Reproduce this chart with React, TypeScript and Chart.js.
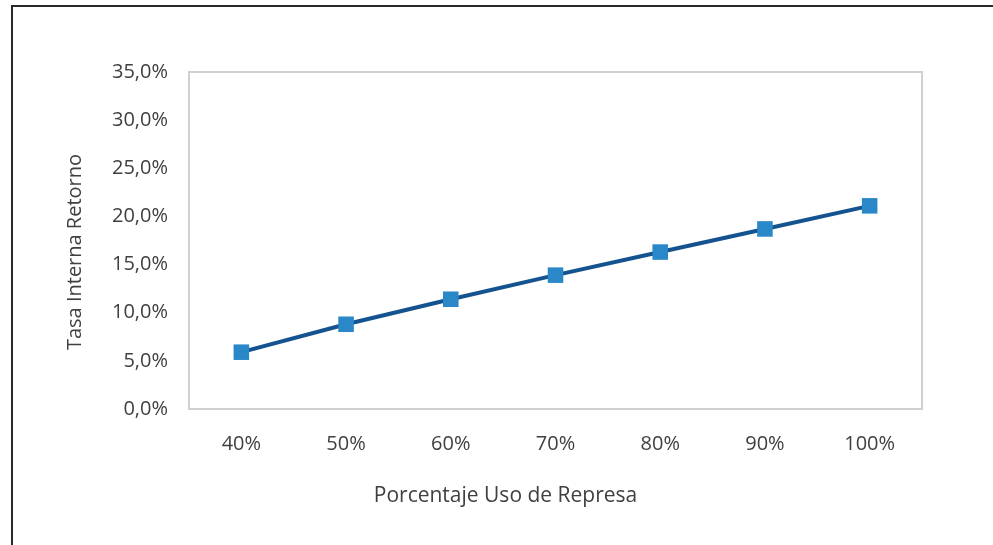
import React, { useEffect, useRef } from 'react';
import { Chart, registerables } from 'chart.js';

Chart.register(...registerables);

const categories: string[] = ['40%', '50%', '60%', '70%', '80%', '90%', '100%'];
const tirValues: number[] = [5.9, 8.8, 11.4, 13.9, 16.3, 18.7, 21.1];
const yMin = 0;
const yMax = 35;
const yStep = 5;
const xTitle = 'Porcentaje Uso de Represa';
const yTitle = 'Tasa Interna Retorno';

const FONT = '"Open Sans", "DejaVu Sans", sans-serif';
const TEXT = '#404040';

const plotFramePlugin = {
  id: 'plotFrame',
  beforeDatasetsDraw(chart: any) {
    const { ctx, chartArea } = chart;
    ctx.save();
    ctx.strokeStyle = '#d0d0d0';
    ctx.lineWidth = 2;
    ctx.strokeRect(chartArea.left, chartArea.top, chartArea.right - chartArea.left, chartArea.bottom - chartArea.top);
    ctx.restore();
  },
};

const axisTitlesPlugin = {
  id: 'axisTitles',
  afterDraw(chart: any) {
    const { ctx } = chart;
    ctx.save();
    ctx.fillStyle = TEXT;
    ctx.textAlign = 'center';
    ctx.textBaseline = 'middle';
    ctx.font = `21px ${FONT}`;
    ctx.fillText(xTitle, 505.5, 496);
    ctx.font = `20px ${FONT}`;
    ctx.translate(75, 252);
    ctx.rotate(-Math.PI / 2);
    ctx.fillText(yTitle, 0, 0);
    ctx.restore();
  },
};

export default function App() {
  const canvasRef = useRef<HTMLCanvasElement | null>(null);

  useEffect(() => {
    if (!canvasRef.current) return;
    const chart = new Chart(canvasRef.current, {
      type: 'line',
      data: {
        labels: categories,
        datasets: [
          {
            label: 'TIR',
            data: tirValues,
            borderColor: '#14538f',
            borderWidth: 4,
            backgroundColor: '#2a88c8',
            pointStyle: 'rect',
            pointRadius: 11,
            pointBackgroundColor: '#2a88c8',
            pointBorderColor: '#2a88c8',
            pointBorderWidth: 0,
            tension: 0,
            fill: false,
          },
        ],
      },
      options: {
        animation: false,
        responsive: false,
        maintainAspectRatio: false,
        layout: { padding: { left: 0, top: 72, right: 71, bottom: 0 } },
        plugins: {
          legend: { display: false },
          tooltip: { enabled: false },
          title: { display: false },
        },
        scales: {
          x: {
            type: 'category',
            offset: true,
            grid: { display: false, drawTicks: false },
            border: { display: false },
            ticks: {
              color: TEXT,
              font: { family: FONT, size: 20 },
              padding: 23,
              maxRotation: 0,
            },
            afterFit(scale: any) {
              scale.height = 136;
            },
          },
          y: {
            min: yMin,
            max: yMax,
            grid: { display: false, drawTicks: false },
            border: { display: false },
            ticks: {
              stepSize: yStep,
              color: TEXT,
              font: { family: FONT, size: 20 },
              padding: 21,
              callback: (v: any) => Number(v).toFixed(1).replace('.', ',') + '%',
            },
            afterFit(scale: any) {
              scale.width = 189;
            },
          },
        },
      },
      plugins: [plotFramePlugin, axisTitlesPlugin],
    });
    return () => chart.destroy();
  }, []);

  return (
    <div
      style={{
        position: 'absolute',
        left: 0,
        top: 0,
        width: 993,
        height: 545,
        overflow: 'hidden',
        background: '#ffffff',
      }}
    >
      <canvas ref={canvasRef} width={993} height={545} style={{ position: 'absolute', left: 0, top: 0 }} />
      <div
        style={{
          position: 'absolute',
          left: 11,
          top: 5,
          width: 1100,
          height: 700,
          borderTop: '2px solid #2a2a2a',
          borderLeft: '2px solid #2a2a2a',
          pointerEvents: 'none',
        }}
      />
    </div>
  );
}
